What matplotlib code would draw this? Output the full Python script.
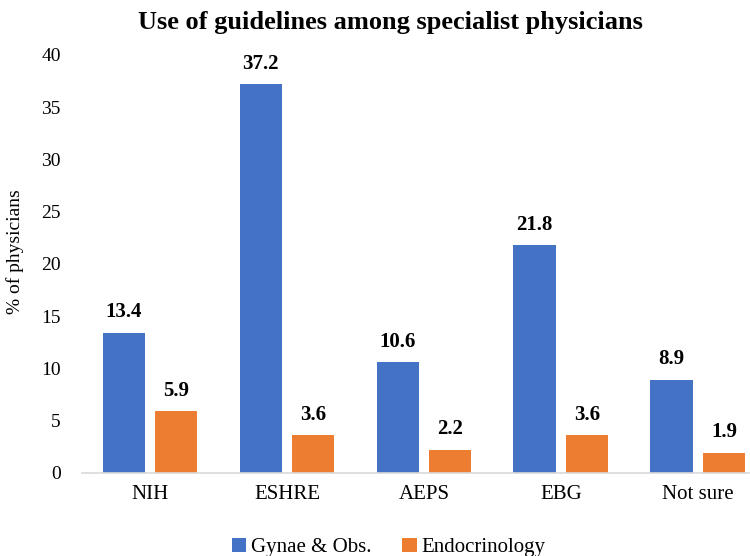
import matplotlib.pyplot as plt
import numpy as np

categories = ['NIH', 'ESHRE', 'AEPS', 'EBG', 'Not sure']
gynae = [13.4, 37.2, 10.6, 21.8, 8.9]
endo = [5.9, 3.6, 2.2, 3.6, 1.9]
yticks = [0, 5, 10, 15, 20, 25, 30, 35, 40]

plt.rcParams['font.family'] = ['Liberation Serif', 'DejaVu Serif']

fig = plt.figure(figsize=(7.5, 5.56), dpi=100)
ax = fig.add_axes([0.1087, 0.1498, 0.8913, 0.7515])

x = np.arange(len(categories))
w = 0.307
off = 0.193
b1 = ax.bar(x - off, gynae, w, color='#4472C4', label='Gynae & Obs.')
b2 = ax.bar(x + off, endo, w, color='#ED7D31', label='Endocrinology')

# value labels above bars
for bars, vals in [(b1, gynae), (b2, endo)]:
    for bar, v in zip(bars, vals):
        ax.text(bar.get_x() + bar.get_width() / 2, v + 1.0, f'{v}',
                ha='center', va='bottom', fontsize=15, fontweight='bold')

ax.set_xlim(-0.5, 4.38)
ax.set_ylim(0, 40)
ax.set_yticks(yticks)
ax.set_xticks(x)
ax.set_xticklabels(categories, fontsize=15)
ax.tick_params(axis='y', labelsize=14, length=0, pad=15)
ax.tick_params(axis='x', length=0, pad=9)
for s in ['top', 'right', 'left']:
    ax.spines[s].set_visible(False)
ax.spines['bottom'].set_color('#d9d9d9')
ax.spines['bottom'].set_linewidth(1.2)

fig.text(0.02, 0.548, '% of physicians', rotation=90, ha='center', va='center', fontsize=14)
fig.text(0.52, 0.96, 'Use of guidelines among specialist physicians',
         ha='center', va='center', fontsize=19, fontweight='bold')

fig.legend(loc='lower center', bbox_to_anchor=(0.518, -0.036), ncol=2, frameon=False,
           fontsize=15, handlelength=0.7, handleheight=0.7, handletextpad=0.2,
           columnspacing=1.5)

plt.savefig('out.png', dpi=100)
